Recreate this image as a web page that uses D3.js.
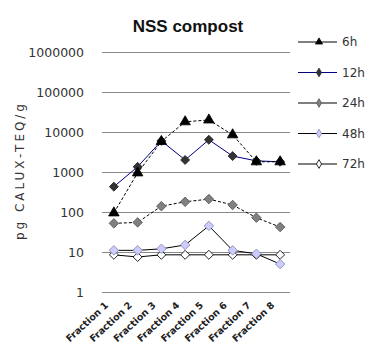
<!DOCTYPE html>
<html>
<head>
<meta charset="utf-8">
<script src="https://cdn.jsdelivr.net/npm/d3@7"></script>
<style>
  body { margin: 0; background: #fff; }
  svg text { font-family: "DejaVu Sans", Verdana, sans-serif; }
</style>
</head>
<body>
<svg id="chart"></svg>
<script>
const categories = ['Fraction 1', 'Fraction 2', 'Fraction 3', 'Fraction 4', 'Fraction 5', 'Fraction 6', 'Fraction 7', 'Fraction 8'];
const seriesNames = ['6h', '12h', '24h', '48h', '72h'];
const v6h = [95, 950, 5800, 18000, 20000, 8500, 1800, 1800];
const v12h = [430, 1350, 6000, 2000, 6400, 2500, 1900, 1800];
const v24h = [52, 55, 140, 180, 210, 150, 72, 42];
const v48h = [11, 11, 12, 15, 45, 11, 9, 5];
const v72h = [8.5, 7.5, 8.5, 8.5, 8.5, 8.5, 8.5, 8.5];
const yTicks = [1, 10, 100, 1000, 10000, 100000, 1000000];

const width = 371, height = 354;
const margin = {top: 52, right: 79, bottom: 62, left: 102};

const svg = d3.select('#chart')
  .attr('width', width)
  .attr('height', height);

const x = d3.scaleBand().domain(categories).range([margin.left, width - margin.right]);
const y = d3.scaleLog().domain([1, 1000000]).range([height - margin.bottom, margin.top]);

// styles per series (rot: draw square turned 45deg as diamond)
const styles = {
  '6h':  {values: v6h,  line: '#000', dash: '3,2', shape: d3.symbolTriangle, rot: 0, fill: '#000', stroke: '#000', size: 48},
  '12h': {values: v12h, line: '#000080', dash: null, shape: d3.symbolSquare, rot: 45, fill: '#333', stroke: '#222', size: 40},
  '24h': {values: v24h, line: '#000', dash: '3,2', shape: d3.symbolSquare, rot: 45, fill: '#808080', stroke: '#555', size: 45},
  '48h': {values: v48h, line: '#000', dash: null, shape: d3.symbolSquare, rot: 45, fill: '#ccccff', stroke: '#8888aa', size: 45},
  '72h': {values: v72h, line: '#000', dash: null, shape: d3.symbolSquare, rot: 45, fill: '#fff', stroke: '#000', size: 40}
};

// title
svg.append('text')
  .attr('x', 188).attr('y', 32)
  .attr('text-anchor', 'middle')
  .attr('fill', '#111')
  .style('font-family', '"Liberation Sans", Arial, sans-serif')
  .style('font-size', '17px').style('font-weight', 'bold')
  .text('NSS compost');

// gridlines
svg.append('g')
  .attr('transform', 'translate(' + margin.left + ',0)')
  .call(d3.axisLeft(y).tickValues(yTicks).tickSize(-(width - margin.left - margin.right - 2)).tickFormat(''))
  .call(g => g.select('.domain').remove())
  .selectAll('line').attr('stroke', '#888');

// y tick labels
svg.append('g')
  .attr('transform', 'translate(87,0)')
  .call(d3.axisLeft(y).tickValues(yTicks).tickSize(0).tickFormat(d3.format('d')))
  .call(g => g.select('.domain').remove())
  .selectAll('text')
  .attr('fill', '#333')
  .style('font-family', '"DejaVu Sans", Verdana, sans-serif')
  .style('font-size', '12.5px');

// y axis label
svg.append('text')
  .attr('transform', 'translate(24,172) rotate(-90)')
  .attr('text-anchor', 'middle')
  .attr('fill', '#333')
  .attr('textLength', 136)
  .attr('lengthAdjust', 'spacing')
  .style('font-size', '12px')
  .text('pg CALUX-TEQ/g');

// x labels
const cx = d => x(d) + x.bandwidth() / 2;
svg.append('g').selectAll('text')
  .data(categories)
  .enter().append('text')
  .attr('transform', d => 'translate(' + (cx(d) - 5) + ',306) rotate(-43)')
  .attr('text-anchor', 'end')
  .style('font-size', '9.5px')
  .style('font-weight', 'bold')
  .attr('fill', '#222')
  .text(d => d);

// series, drawn from last to first so 6h is on top
seriesNames.slice().reverse().forEach(function(name) {
  const s = styles[name];
  const line = d3.line().x((d, i) => cx(categories[i])).y(d => y(d));
  svg.append('path')
    .datum(s.values)
    .attr('d', line)
    .attr('fill', 'none')
    .attr('stroke', s.line)
    .attr('stroke-width', 1)
    .attr('stroke-dasharray', s.dash);
  svg.append('g').selectAll('path')
    .data(s.values)
    .enter().append('path')
    .attr('transform', (d, i) => 'translate(' + cx(categories[i]) + ',' + y(d) + ') rotate(' + s.rot + ')')
    .attr('d', d3.symbol().type(s.shape).size(s.size))
    .attr('fill', s.fill)
    .attr('stroke', s.stroke)
    .attr('stroke-width', 0.8);
});

// legend
const legend = svg.append('g').selectAll('g')
  .data(seriesNames)
  .enter().append('g')
  .attr('transform', (d, i) => 'translate(298,' + (42 + i * 30.5) + ')');

legend.append('line')
  .attr('x1', 0).attr('x2', 39)
  .attr('stroke', d => d === '12h' ? '#000080' : '#000');

legend.append('path')
  .attr('transform', 'translate(21,0)')
  .attr('d', d => d3.symbol().type(d === '6h' ? d3.symbolTriangle : d3.symbolDiamond).size(22)())
  .attr('fill', d => styles[d].fill)
  .attr('stroke', d => styles[d].stroke)
  .attr('stroke-width', 0.8);

legend.append('text')
  .attr('x', 44).attr('dy', '0.35em')
  .attr('fill', '#333')
  .style('font-size', '12px')
  .text(d => d);
</script>
</body>
</html>
